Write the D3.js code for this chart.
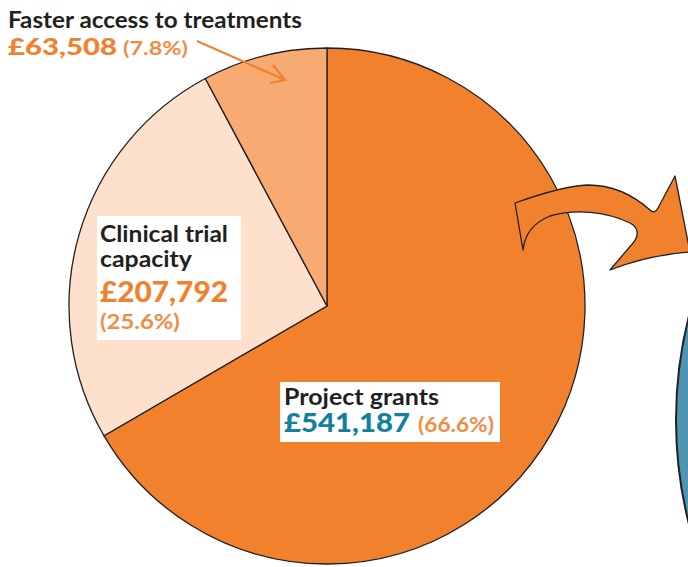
<!DOCTYPE html>
<html>
<head>
<meta charset="utf-8">
<script src="https://cdn.jsdelivr.net/npm/d3@7"></script>
<style>
  body { margin: 0; background: #fff; }
  svg { display: block; font-family: Lato, "Open Sans", sans-serif; }
</style>
</head>
<body>
<div id="chart-area"></div>
<script>
// funding split
var categories = ["Project grants", "Clinical trial capacity", "Faster access to treatments"];
var amounts = [541187, 207792, 63508];
var shares = [66.6, 25.6, 7.8];
var sliceColors = ["#f2812d", "#fde1cd", "#f8aa73"];

var width = 688, height = 567;
var cx = 327, cy = 306, radius = 258;

var svg = d3.select("#chart-area")
    .append("svg")
        .attr("width", width)
        .attr("height", height);

// blue circle peeking in from the right (next panel)
svg.append("circle")
    .attr("cx", 1099)
    .attr("cy", 420)
    .attr("r", 423)
    .attr("fill", "#4d95b3")
    .attr("stroke", "#231f20")
    .attr("stroke-width", 2);

var data = categories.map(function(c, i) {
    return { name: c, amount: amounts[i], share: shares[i], color: sliceColors[i] };
});

var pie = d3.pie()
    .sort(null)
    .value(function(d) { return d.amount; });

var arc = d3.arc()
    .innerRadius(0)
    .outerRadius(radius);

var g = svg.append("g")
    .attr("transform", "translate(" + cx + "," + cy + ")");

g.selectAll("path")
        .data(pie(data))
    .enter()
        .append("path")
        .attr("d", arc)
        .attr("fill", function(d) { return d.data.color; })
        .attr("stroke", "#231f20")
        .attr("stroke-width", 1.3)
        .attr("stroke-linejoin", "round");

// big curved arrow pointing to the right
svg.append("path")
    .attr("d", "M515,203 C540,194 565,186 588,185 C612,185 632,194 650,210 " +
               "C653,213 656,212 658,208 L675,176 L690,252 " +
               "C665,254 635,260 610,270 L633,243 C641,233 636,226 630,223 " +
               "C605,211 575,209 550,216 C535,222 525,232 523,250 Z")
    .attr("fill", "#f2812d")
    .attr("stroke", "#231f20")
    .attr("stroke-width", 1.3)
    .attr("stroke-linejoin", "round");

var fmt = d3.format(",");
var dark = "#231f20", orange = "#f2812d", teal = "#14809f", lightOrange = "#f18d42";

// white label boxes
svg.append("rect").attr("x", 97).attr("y", 216).attr("width", 144).attr("height", 124).attr("fill", "#fff");
svg.append("rect").attr("x", 280).attr("y", 382).attr("width", 220).attr("height", 60).attr("fill", "#fff");

// text sized by height, then squeezed sideways to the width seen in the picture
// (the original face is narrower than Lato)
function text(x, y, str, size, color, weight, w) {
    var t = svg.append("text")
        .attr("x", 0).attr("y", 0)
        .attr("font-size", size)
        .attr("font-weight", weight)
        .attr("fill", color)
        .text(str);
    var sx = w / t.node().getComputedTextLength();
    t.attr("transform", "translate(" + x + "," + y + ") scale(" + sx.toFixed(3) + ",1)");
    return t;
}

// Faster access
var fa = data[2];
text(8, 28, fa.name, 22.5, dark, 700, 294);
text(8, 55, "£" + fmt(fa.amount), 23.5, orange, 900, 109);
text(123, 55, "(" + fa.share + "%)", 19, lightOrange, 700, 65);

// small pointer arrow
svg.append("path")
    .attr("d", "M197,41 L285,80 M273,65 L285,80 L270,83")
    .attr("fill", "none")
    .attr("stroke", orange)
    .attr("stroke-width", 2.2);

// Clinical trial capacity
var ct = data[1];
text(100, 242, "Clinical trial", 23, dark, 700, 128);
text(100, 267, "capacity", 23, dark, 700, 92);
text(100, 302, "£" + fmt(ct.amount), 28, orange, 900, 128);
text(100, 329, "(" + ct.share + "%)", 20, lightOrange, 700, 80);

// Project grants
var pg = data[0];
text(284, 405, pg.name, 23.5, dark, 700, 155);
text(284, 432, "£" + fmt(pg.amount), 27, teal, 900, 126);
text(418, 432, "(" + pg.share + "%)", 21, lightOrange, 700, 76);
</script>
</body>
</html>
